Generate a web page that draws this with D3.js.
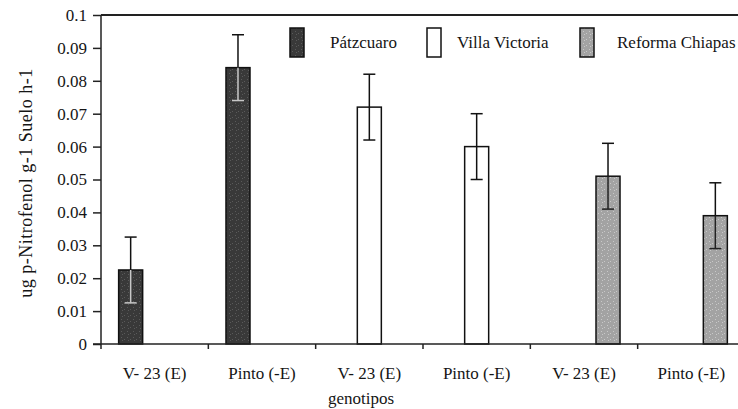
<!DOCTYPE html>
<html><head><meta charset="utf-8">
<script src="https://cdn.jsdelivr.net/npm/d3@7"></script>
<style>body{margin:0;background:#fff}svg{display:block}svg text{font-family:"Liberation Serif","Times New Roman",serif;fill:#151515}</style>
</head><body><svg id="c" width="738" height="409"></svg>
<script>
const categories = ["V- 23 (E)", "Pinto (-E)", "V- 23 (E)", "Pinto (-E)", "V- 23 (E)", "Pinto (-E)"];
const seriesNames = ["Pátzcuaro", "Villa Victoria", "Reforma Chiapas"];
const patzcuaro = [0.0225, 0.084, 0, 0, 0, 0];
const villaVictoria = [0, 0, 0.072, 0.060, 0, 0];
const reformaChiapas = [0, 0, 0, 0, 0.051, 0.039];
const errors = [0.010, 0.010, 0.010, 0.010, 0.010, 0.010];
const yTicks = [0, 0.01, 0.02, 0.03, 0.04, 0.05, 0.06, 0.07, 0.08, 0.09, 0.1];
const yTitle = "ug p-Nitrofenol g-1 Suelo h-1";
const xTitle = "genotipos";

const seriesValues = [patzcuaro, villaVictoria, reformaChiapas];
const innerErr = ["#c8c8c8", "#111", "#222"];

const svg = d3.select("#c");
const defs = svg.append("defs");
[["pd", "#393939", "#5a5a5a"], ["pr", "#a3a3a3", "#c8c8c8"]].forEach(([id, base, dot]) => {
  const p = defs.append("pattern").attr("id", id).attr("patternUnits", "userSpaceOnUse").attr("width", 6).attr("height", 6);
  p.append("rect").attr("width", 6).attr("height", 6).attr("fill", base);
  p.append("rect").attr("x", 1).attr("y", 1).attr("width", 1).attr("height", 1).attr("fill", dot);
  p.append("rect").attr("x", 4).attr("y", 3).attr("width", 1).attr("height", 1).attr("fill", dot);
  p.append("rect").attr("x", 2).attr("y", 4).attr("width", 1).attr("height", 1).attr("fill", dot);
});
const patFill = ["url(#pd)", "#ffffff", "url(#pr)"];

const y = d3.scaleLinear().domain([0, 0.1]).range([344, 15]);
const x = d3.scaleBand().domain(d3.range(categories.length)).range([101, 745]).padding(0);
const xi = d3.scaleBand().domain(d3.range(seriesNames.length)).range([0, x.bandwidth()]).paddingInner(0).paddingOuter(0.735);

svg.append("line").attr("x1", 101).attr("x2", 738).attr("y1", y(0.1)).attr("y2", y(0.1))
  .attr("stroke", "#222").attr("stroke-width", 2);

seriesValues.forEach((vals, s) => {
  vals.forEach((v, i) => {
    if (v <= 0) return;
    const bx = x(i) + xi(s), bw = xi.bandwidth();
    svg.append("rect").attr("x", bx).attr("y", y(v)).attr("width", bw).attr("height", y(0) - y(v))
      .attr("fill", patFill[s]).attr("stroke", "#111").attr("stroke-width", 1.5);
    const cx = bx + bw / 2, e = errors[i];
    svg.append("line").attr("x1", cx).attr("x2", cx).attr("y1", y(v + e)).attr("y2", y(v))
      .attr("stroke", "#111").attr("stroke-width", 1.5);
    svg.append("line").attr("x1", cx - 6).attr("x2", cx + 6).attr("y1", y(v + e)).attr("y2", y(v + e))
      .attr("stroke", "#111").attr("stroke-width", 1.5);
    svg.append("line").attr("x1", cx).attr("x2", cx).attr("y1", y(v)).attr("y2", y(v - e))
      .attr("stroke", innerErr[s]).attr("stroke-width", 1.5);
    svg.append("line").attr("x1", cx - 6).attr("x2", cx + 6).attr("y1", y(v - e)).attr("y2", y(v - e))
      .attr("stroke", innerErr[s]).attr("stroke-width", 1.5);
  });
});

const ya = svg.append("g").attr("transform", "translate(101,0)")
  .call(d3.axisLeft(y).tickValues(yTicks).tickFormat(d => String(+d.toFixed(2))).tickSize(8).tickPadding(6));
ya.attr("font-family", null).attr("font-size", null);
ya.select(".domain").attr("stroke", "#222").attr("stroke-width", 1.5).attr("d", `M0,${y(0.1)}V${y(0)}`);
ya.selectAll(".tick line").attr("stroke", "#222").attr("stroke-width", 1.5);
ya.selectAll(".tick text").attr("font-size", 17).attr("fill", "#151515");

svg.append("line").attr("x1", 93).attr("x2", 738).attr("y1", y(0)).attr("y2", y(0))
  .attr("stroke", "#222").attr("stroke-width", 1.5);
d3.range(categories.length + 1).forEach(i => {
  const tx = i < categories.length ? x(i) : x(categories.length - 1) + x.bandwidth();
  if (tx > 738) return;
  svg.append("line").attr("x1", tx).attr("x2", tx).attr("y1", y(0)).attr("y2", y(0) + 5)
    .attr("stroke", "#222").attr("stroke-width", 1.5);
});
svg.selectAll(".xl").data(categories).enter().append("text")
  .attr("x", (d, i) => x(i) + x.bandwidth() / 2).attr("y", 379)
  .attr("text-anchor", "middle").attr("font-size", 17).text(d => d);

svg.append("text").attr("x", 361).attr("y", 404).attr("text-anchor", "middle").attr("font-size", 17).text(xTitle);
svg.append("text").attr("transform", "translate(32,183) rotate(-90)").attr("text-anchor", "middle")
  .attr("font-size", 18).attr("letter-spacing", 0.5).text(yTitle);

const legX = [290, 427, 580];
const legTextX = [330, 457, 617];
seriesNames.forEach((n, s) => {
  svg.append("rect").attr("x", legX[s]).attr("y", 28).attr("width", 14).attr("height", 29)
    .attr("fill", patFill[s]).attr("stroke", "#111").attr("stroke-width", 1.5);
  svg.append("text").attr("x", legTextX[s]).attr("y", 48).attr("font-size", 17).text(n);
});
</script></body></html>
